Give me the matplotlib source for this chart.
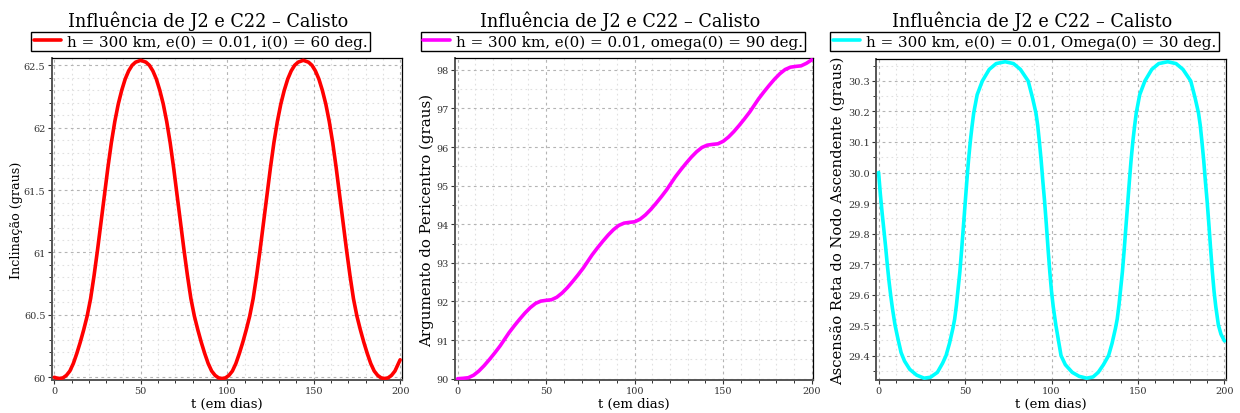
# plot.py - Influencia de J2 e C22 - Calisto (three panels)

import matplotlib

matplotlib.use("Agg")

import matplotlib.pyplot as plt

from matplotlib.ticker import MultipleLocator, FormatStrFormatter, FuncFormatter


# =========================
# DATA
# =========================

t_inc = [
    0, 1, 3, 5, 7, 9, 11, 13, 15, 17, 19, 21, 23, 25, 27, 29, 31, 33, 35, 37,
    39, 41, 43, 45, 47, 50, 53, 55, 57, 59, 61, 63, 65, 67, 69, 71, 73, 75,
    77, 79, 81, 83, 85, 87, 89, 91, 93, 95, 97, 99, 101, 103, 105, 107, 109,
    111, 113, 115, 117, 119, 121, 123, 125, 127, 129, 131, 133, 135, 137,
    139, 141, 144, 147, 149, 151, 153, 155, 157, 159, 161, 163, 165, 167,
    169, 171, 173, 175, 177, 179, 181, 183, 185, 187, 189, 191, 193, 195,
    197, 199, 200
]

inclinacao = [
    60.00, 59.995, 59.99, 59.995, 60.015, 60.05, 60.11, 60.19, 60.28, 60.38,
    60.49, 60.63, 60.815, 61.02, 61.24, 61.46, 61.68, 61.88, 62.05, 62.19,
    62.30, 62.39, 62.455, 62.50, 62.525, 62.54, 62.525, 62.50, 62.455, 62.39,
    62.30, 62.19, 62.05, 61.88, 61.68, 61.46, 61.24, 61.02, 60.815, 60.63,
    60.49, 60.38, 60.28, 60.19, 60.11, 60.05, 60.015, 59.995, 59.99, 59.995,
    60.015, 60.05, 60.11, 60.19, 60.28, 60.38, 60.49, 60.63, 60.815, 61.02,
    61.24, 61.46, 61.68, 61.88, 62.05, 62.19, 62.30, 62.39, 62.455, 62.50,
    62.525, 62.54, 62.525, 62.50, 62.455, 62.39, 62.30, 62.19, 62.05, 61.88,
    61.68, 61.46, 61.24, 61.02, 60.815, 60.63, 60.49, 60.38, 60.28, 60.19,
    60.11, 60.05, 60.015, 59.995, 59.99, 59.995, 60.015, 60.05, 60.11, 60.14
]

t_arg = [
    0, 3, 6, 9, 12, 15, 18, 21, 24, 26.5, 29, 32, 35, 38, 41, 44, 47,
    50, 53, 56, 59, 62, 65, 68, 71, 73.5, 76, 79, 82, 85, 88, 91, 94,
    97, 100, 103, 106, 109, 112, 115, 118, 120.5, 123, 126, 129, 132, 135, 138, 141,
    144, 147, 150, 153, 156, 159, 162, 165, 167.5, 170, 173, 176, 179, 182, 185, 188,
    191, 194, 197, 200
]

argumento = [
    90.00, 90.01, 90.025, 90.09, 90.20, 90.34, 90.50, 90.67, 90.85, 91.02,
    91.19, 91.37, 91.54, 91.70, 91.84, 91.95, 92.01,
    92.03, 92.045, 92.11, 92.22, 92.36, 92.52, 92.69, 92.87, 93.04, 93.21,
    93.39, 93.56, 93.72, 93.86, 93.97, 94.03,
    94.05, 94.065, 94.13, 94.24, 94.38, 94.54, 94.71, 94.89, 95.06, 95.23,
    95.41, 95.58, 95.74, 95.88, 95.99, 96.05,
    96.07, 96.085, 96.15, 96.26, 96.40, 96.56, 96.73, 96.91, 97.08, 97.25,
    97.43, 97.60, 97.76, 97.90, 98.01, 98.07,
    98.09, 98.105, 98.17, 98.26
]

t_nodo = [
    0, 1, 2, 3, 4, 5, 6, 7, 8, 9.5, 11, 13, 15, 18, 22, 26.3, 30, 34, 37, 39,
    41, 43, 44, 45, 46, 47, 48, 49, 50, 51, 52, 53, 54, 55, 57, 60, 64, 68,
    73.2, 78, 82, 86.5, 89, 91, 92, 93, 94, 95, 96, 97, 98, 99, 100, 101,
    102.5, 104, 105.5, 108, 112, 116, 120.3, 124, 127, 130, 133, 135, 137,
    138, 139, 140, 141, 142, 143, 144, 145, 146, 147, 148, 149, 151, 154,
    158, 162, 167.2, 172, 176, 180.5, 183, 185, 186, 187, 188, 189, 190,
    191, 192, 193, 194, 195, 196.5, 198, 200
]

nodo = [
    30.00, 29.93, 29.87, 29.815, 29.76, 29.70, 29.645, 29.597, 29.555, 29.50,
    29.46, 29.41, 29.382, 29.355, 29.336, 29.326, 29.329, 29.345, 29.375,
    29.40, 29.44, 29.49, 29.52, 29.565, 29.62, 29.675, 29.745, 29.82, 29.895,
    29.97, 30.04, 30.10, 30.15, 30.195, 30.255, 30.30, 30.338, 30.357,
    30.363, 30.357, 30.338, 30.30, 30.245, 30.195, 30.155, 30.10, 30.04,
    29.97, 29.905, 29.83, 29.75, 29.675, 29.61, 29.56, 29.50, 29.45, 29.40,
    29.37, 29.345, 29.332, 29.326, 29.330, 29.345, 29.37, 29.40, 29.44,
    29.49, 29.52, 29.565, 29.62, 29.675, 29.745, 29.82, 29.895, 29.97,
    30.04, 30.10, 30.15, 30.195, 30.255, 30.30, 30.338, 30.357, 30.363,
    30.357, 30.338, 30.30, 30.245, 30.195, 30.155, 30.10, 30.04, 29.97,
    29.905, 29.83, 29.75, 29.675, 29.61, 29.56, 29.50, 29.47, 29.448
]

titulo = "Influência de J2 e C22 – Calisto"

legendas = [
    "h = 300 km, e(0) = 0.01, i(0) = 60 deg.",
    "h = 300 km, e(0) = 0.01, omega(0) = 90 deg.",
    "h = 300 km, e(0) = 0.01, Omega(0) = 30 deg.",
]

ylabels = [
    "Inclinação (graus)",
    "Argumento do Pericentro (graus)",
    "Ascensão Reta do Nodo Ascendente (graus)",
]

cores = ["#ff0000", "#ff00ff", "#00ffff"]


# =========================
# FIGURE
# =========================

plt.rcParams["font.family"] = ["DejaVu Serif"]

W, H = 1240, 414

fig = plt.figure(figsize=(W / 100, H / 100), dpi=100)


def px_axes(left, top, right, bottom):
    return fig.add_axes([
        left / W,
        1 - bottom / H,
        (right - left) / W,
        (bottom - top) / H
    ])


ax1 = px_axes(51.7, 59.3, 401.7, 381)
ax2 = px_axes(455, 59.3, 813.3, 381)
ax3 = px_axes(876, 60, 1226, 381)

series = [
    (ax1, t_inc, inclinacao),
    (ax2, t_arg, argumento),
    (ax3, t_nodo, nodo),
]

title_cx = [208, 620, 1032]
legend_cx = [200.5, 613, 1024.5]
ylabel_size = [9.2, 10.8, 10.6]
ylabel_pad = [0.5, 2, 2]


# =========================
# STYLE + LINES
# =========================

for i, (ax, tt, vv) in enumerate(series):

    line, = ax.plot(
        tt,
        vv,
        color=cores[i],
        linewidth=2.6,
        solid_capstyle="round",
        solid_joinstyle="round",
        label=legendas[i],
        zorder=3
    )

    ax.set_xlim(-1.5, 200.9)

    ax.xaxis.set_major_locator(MultipleLocator(50))
    ax.xaxis.set_minor_locator(MultipleLocator(10))

    ax.grid(
        which="major",
        color="#b4b4b4",
        linestyle=(0, (2.5, 3)),
        linewidth=0.8,
        zorder=0
    )

    ax.grid(
        which="minor",
        color="#e0e0e0",
        linestyle=(0, (1.5, 3)),
        linewidth=0.8,
        zorder=0
    )

    ax.tick_params(
        which="major",
        direction="out",
        length=3,
        width=0.8,
        labelsize=7,
        pad=1.5,
        colors="#333333"
    )

    ax.tick_params(
        which="minor",
        direction="out",
        length=2,
        width=0.7,
        colors="#333333"
    )

    for side in ["left", "bottom"]:
        ax.spines[side].set_color("#555555")
        ax.spines[side].set_linewidth(1.4)

    for side in ["top", "right"]:
        ax.spines[side].set_color("#000000")
        ax.spines[side].set_linewidth(0.9)

    ax.set_xlabel("t (em dias)", fontsize=9.5, labelpad=1)

    ax.set_ylabel(ylabels[i], fontsize=ylabel_size[i], labelpad=ylabel_pad[i])

    fig.text(
        title_cx[i] / W,
        1 - 27.3 / H,
        titulo,
        ha="center",
        va="baseline",
        fontsize=12.7
    )

    leg = ax.legend(
        handles=[line],
        loc="center",
        bbox_to_anchor=(legend_cx[i] / W, 1 - 42.5 / H),
        bbox_transform=fig.transFigure,
        fontsize=10.9,
        frameon=True,
        fancybox=False,
        edgecolor="#000000",
        framealpha=1,
        borderpad=0.15,
        handlelength=1.8,
        handletextpad=0.4
    )

    leg.get_frame().set_linewidth(1.0)


# =========================
# Y AXES
# =========================

ax1.set_ylim(59.978, 62.556)
ax1.yaxis.set_major_locator(MultipleLocator(0.5))
ax1.yaxis.set_minor_locator(MultipleLocator(0.1))
ax1.yaxis.set_major_formatter(FuncFormatter(lambda v, p: f"{v:g}"))

ax2.set_ylim(89.966, 98.30)
ax2.yaxis.set_major_locator(MultipleLocator(1))
ax2.yaxis.set_minor_locator(MultipleLocator(0.5))
ax2.yaxis.set_major_formatter(FormatStrFormatter("%d"))

ax3.set_ylim(29.32, 30.372)
ax3.yaxis.set_major_locator(MultipleLocator(0.1))
ax3.yaxis.set_minor_locator(MultipleLocator(0.05))
ax3.yaxis.set_major_formatter(FormatStrFormatter("%.1f"))


# =========================
# SAVE
# =========================

fig.savefig("out.png", dpi=100)

plt.close(fig)
